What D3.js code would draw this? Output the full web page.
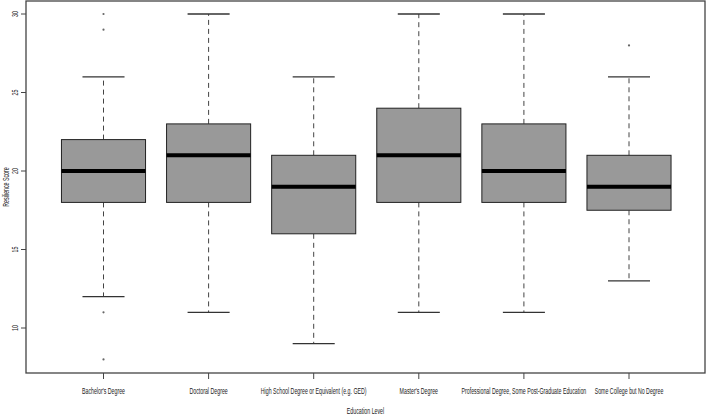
<!DOCTYPE html>
<html>
<head>
<meta charset="utf-8">
<script src="https://cdn.jsdelivr.net/npm/d3@7"></script>
<style>
  body { margin: 0; background: #fff; }
  text { font-family: "Liberation Sans", Arial, sans-serif; fill: #222; }
</style>
</head>
<body>
<svg id="chart" width="709" height="416"></svg>
<script>
// data
var categories = ["Bachelor's Degree", "Doctoral Degree", "High School Degree or Equivalent (e.g. GED)",
                  "Master's Degree", "Professional Degree, Some Post-Graduate Education", "Some College but No Degree"];
var lowerWhisker = [12, 11, 9, 11, 11, 13];
var q1 = [18, 18, 16, 18, 18, 17.5];
var median = [20, 21, 19, 21, 20, 19];
var q3 = [22, 23, 21, 24, 23, 21];
var upperWhisker = [26, 30, 26, 30, 30, 26];
var outliers = [[30, 29, 11, 8], [], [], [], [], [28]];
var yTicks = [10, 15, 20, 25, 30];

var LEFT = 26, RIGHT = 705, TOP = 1, BOTTOM = 373;
var SQUEEZE = 0.585; // text in the picture is narrowed horizontally

var svg = d3.select("#chart");

var x = d3.scaleLinear().domain([1, 6]).range([103.5, 629]);
var y = d3.scaleLinear().domain([10, 30]).range([328, 14]);
var step = x(2) - x(1);
var boxW = step * 0.8;
var capW = boxW * 0.5;

var boxes = categories.map(function(c, i) {
    return {name: c, i: i + 1, lo: lowerWhisker[i], q1: q1[i], med: median[i], q3: q3[i], hi: upperWhisker[i], out: outliers[i]};
});

var g = svg.selectAll("g.box").data(boxes).enter().append("g").attr("class", "box");

// whiskers
g.append("line")
    .attr("x1", function(d){ return x(d.i); }).attr("x2", function(d){ return x(d.i); })
    .attr("y1", function(d){ return y(d.q3); }).attr("y2", function(d){ return y(d.hi); })
    .style("stroke", "#444").style("stroke-dasharray", "5,4").style("stroke-width", 1);
g.append("line")
    .attr("x1", function(d){ return x(d.i); }).attr("x2", function(d){ return x(d.i); })
    .attr("y1", function(d){ return y(d.q1); }).attr("y2", function(d){ return y(d.lo); })
    .style("stroke", "#444").style("stroke-dasharray", "5,4").style("stroke-width", 1);

// caps
["hi", "lo"].forEach(function(k) {
    g.append("line")
        .attr("x1", function(d){ return x(d.i) - capW / 2; }).attr("x2", function(d){ return x(d.i) + capW / 2; })
        .attr("y1", function(d){ return y(d[k]); }).attr("y2", function(d){ return y(d[k]); })
        .style("stroke", "#333").style("stroke-width", 1.3);
});

// boxes
g.append("rect")
    .attr("x", function(d){ return x(d.i) - boxW / 2; })
    .attr("y", function(d){ return y(d.q3); })
    .attr("width", boxW)
    .attr("height", function(d){ return y(d.q1) - y(d.q3); })
    .style("fill", "#999999").style("stroke", "#222").style("stroke-width", 1);

// median
g.append("line")
    .attr("x1", function(d){ return x(d.i) - boxW / 2; }).attr("x2", function(d){ return x(d.i) + boxW / 2; })
    .attr("y1", function(d){ return y(d.med); }).attr("y2", function(d){ return y(d.med); })
    .style("stroke", "#000").style("stroke-width", 4);

// outliers
g.each(function(d) {
    d3.select(this).selectAll("circle").data(d.out).enter().append("circle")
        .attr("cx", x(d.i)).attr("cy", function(v){ return y(v); })
        .attr("r", 1.1).style("fill", "#666").style("stroke", "none");
});

// frame
svg.append("rect")
    .attr("x", LEFT).attr("y", TOP).attr("width", RIGHT - LEFT).attr("height", BOTTOM - TOP)
    .style("fill", "none").style("stroke", "#444").style("stroke-width", 1.3);

// x axis ticks and labels
var xt = svg.selectAll("g.xtick").data(boxes).enter().append("g").attr("class", "xtick");
xt.append("line")
    .attr("x1", function(d){ return x(d.i); }).attr("x2", function(d){ return x(d.i); })
    .attr("y1", BOTTOM).attr("y2", BOTTOM + 6)
    .style("stroke", "#444");
xt.append("text")
    .attr("transform", function(d){ return "translate(" + x(d.i) + "," + 394 + ") scale(" + SQUEEZE + ",1)"; })
    .attr("text-anchor", "middle")
    .style("font-size", "9px")
    .text(function(d){ return d.name; });

// y axis ticks and labels
var yt = svg.selectAll("g.ytick").data(yTicks).enter().append("g").attr("class", "ytick");
yt.append("line")
    .attr("x1", LEFT - 5).attr("x2", LEFT)
    .attr("y1", function(d){ return y(d); }).attr("y2", function(d){ return y(d); })
    .style("stroke", "#444");
yt.append("text")
    .attr("transform", function(d){ return "translate(18," + y(d) + ") rotate(-90) scale(" + SQUEEZE + ",1)"; })
    .attr("text-anchor", "middle")
    .style("font-size", "9px")
    .text(function(d){ return d; });

// axis titles
svg.append("text")
    .attr("transform", "translate(" + ((LEFT + RIGHT) / 2) + ",414) scale(" + SQUEEZE + ",1)")
    .attr("text-anchor", "middle")
    .style("font-size", "9px")
    .text("Education Level");
svg.append("text")
    .attr("transform", "translate(9," + ((TOP + BOTTOM) / 2) + ") rotate(-90) scale(" + SQUEEZE + ",1)")
    .attr("text-anchor", "middle")
    .style("font-size", "9px")
    .text("Resilience Score");
</script>
</body>
</html>
